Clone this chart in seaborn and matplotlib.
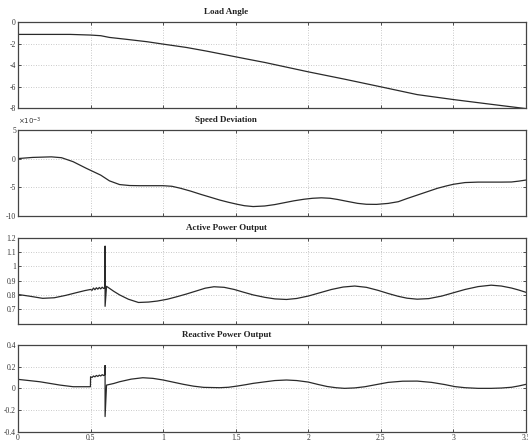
import matplotlib
matplotlib.use("Agg")
import matplotlib.pyplot as plt
import seaborn as sns
import pandas as pd

# time axis ticks
x_ticks = [0, 0.5, 1, 1.5, 2, 2.5, 3, 3.5]
x_tick_labels = ["0", "0.5", "1", "1.5", "2", "2.5", "3", "3.5"]

# load angle
t_load = [0, 0.36, 0.5, 0.57, 0.63, 0.75, 0.89, 1.0, 1.16, 1.3, 1.44, 1.58, 1.7,
          2.0, 2.25, 2.5, 2.75, 3.0, 3.26, 3.5]
v_load = [-1.15, -1.15, -1.21, -1.27, -1.43, -1.61, -1.83, -2.05, -2.36, -2.70, -3.07,
          -3.44, -3.75, -4.62, -5.30, -6.01, -6.73, -7.19, -7.63, -8.03]

# speed deviation (x 1e-3)
t_speed = [0, 0.1, 0.23, 0.30, 0.38, 0.47, 0.57, 0.63, 0.70, 0.77, 0.84, 1.0, 1.06,
           1.12, 1.19, 1.26, 1.33, 1.39, 1.45, 1.51, 1.56, 1.62, 1.70, 1.77, 1.83,
           1.90, 1.97, 2.03, 2.09, 2.15, 2.20, 2.27, 2.34, 2.40, 2.47, 2.55, 2.62,
           2.68, 2.75, 2.82, 2.89, 2.95, 3.0, 3.08, 3.17, 3.26, 3.33, 3.40, 3.45, 3.5]
v_speed = [0.0, 0.2, 0.3, 0.15, -0.55, -1.7, -2.9, -3.9, -4.55, -4.72, -4.75, -4.75,
           -4.85, -5.2, -5.7, -6.27, -6.8, -7.26, -7.65, -8.0, -8.25, -8.4, -8.3,
           -8.05, -7.75, -7.4, -7.12, -6.95, -6.87, -6.95, -7.15, -7.5, -7.84, -8.0,
           -8.02, -7.85, -7.55, -7.0, -6.4, -5.8, -5.2, -4.8, -4.5, -4.2, -4.12,
           -4.12, -4.12, -4.1, -3.95, -3.76]

# active power output
t_active = [0, 0.08, 0.17, 0.25, 0.33, 0.40, 0.46, 0.50, 0.51, 0.52, 0.53, 0.54,
            0.55, 0.56, 0.57, 0.58, 0.59, 0.60, 0.60, 0.60, 0.61, 0.66, 0.70, 0.76,
            0.83, 0.90, 0.96, 1.03, 1.09, 1.16, 1.23, 1.29, 1.35, 1.42, 1.49, 1.55,
            1.62, 1.70, 1.77, 1.85, 1.92, 2.00, 2.08, 2.16, 2.24, 2.32, 2.40, 2.48,
            2.55, 2.62, 2.68, 2.75, 2.83, 2.92, 3.00, 3.08, 3.17, 3.26, 3.33, 3.40,
            3.45, 3.50]
v_active = [0.803, 0.791, 0.776, 0.780, 0.797, 0.815, 0.830, 0.838, 0.832, 0.848,
            0.836, 0.850, 0.840, 0.852, 0.842, 0.854, 0.845, 0.852, 1.14, 0.72,
            0.86, 0.825, 0.800, 0.770, 0.747, 0.750, 0.757, 0.770, 0.786, 0.806,
            0.828, 0.847, 0.857, 0.853, 0.838, 0.820, 0.800, 0.783, 0.772, 0.768,
            0.775, 0.792, 0.815, 0.838, 0.855, 0.862, 0.853, 0.832, 0.810, 0.790,
            0.777, 0.770, 0.774, 0.792, 0.815, 0.838, 0.858, 0.868, 0.862, 0.848,
            0.834, 0.818]

# reactive power output
t_reactive = [0, 0.15, 0.29, 0.38, 0.499, 0.50, 0.51, 0.52, 0.53, 0.54, 0.55, 0.56,
              0.57, 0.58, 0.59, 0.60, 0.60, 0.60, 0.61, 0.66, 0.70, 0.78, 0.86, 0.93,
              1.0, 1.07, 1.14, 1.21, 1.28, 1.39, 1.45, 1.51, 1.57, 1.62, 1.70, 1.77,
              1.85, 1.92, 2.0, 2.07, 2.13, 2.19, 2.25, 2.32, 2.39, 2.47, 2.55, 2.65,
              2.75, 2.85, 2.94, 3.01, 3.08, 3.17, 3.26, 3.33, 3.40, 3.45, 3.5]
v_reactive = [0.083, 0.061, 0.030, 0.015, 0.015, 0.107, 0.100, 0.114, 0.106, 0.119,
              0.110, 0.122, 0.114, 0.126, 0.118, 0.129, 0.21, -0.26, 0.030, 0.045,
              0.061, 0.085, 0.098, 0.092, 0.077, 0.057, 0.037, 0.020, 0.009, 0.006,
              0.010, 0.021, 0.034, 0.046, 0.060, 0.072, 0.077, 0.072, 0.058, 0.035,
              0.017, 0.006, 0.0, 0.004, 0.015, 0.035, 0.055, 0.066, 0.067, 0.055,
              0.035, 0.016, 0.006, 0.0, 0.0, 0.003, 0.010, 0.022, 0.037]

titles = ["Load Angle", "Speed Deviation", "Active Power Output", "Reactive Power Output"]
y_limits = [(-8, 0), (-10, 5), (0.6, 1.2), (-0.4, 0.4)]
y_ticks = [[-8, -6, -4, -2, 0], [-10, -5, 0, 5], [0.7, 0.8, 0.9, 1.0, 1.1, 1.2],
           [-0.4, -0.2, 0, 0.2, 0.4]]
y_tick_labels = [["-8", "-6", "-4", "-2", "0"], ["-10", "-5", "0", "5"],
                 ["0.7", "0.8", "0.9", "1", "1.1", "1.2"],
                 ["-0.4", "-0.2", "0", "0.2", "0.4"]]

sns.set_style("white")
plt.rcParams["font.family"] = ["Liberation Serif", "DejaVu Serif"]

series = [(t_load, v_load), (t_speed, v_speed), (t_active, v_active),
          (t_reactive, v_reactive)]

# axes boxes in pixels (top, bottom)
W, H = 528, 446
boxes = [(22, 108.3), (130, 215.7), (237.7, 323.5), (345, 431.7)]
left_px, right_px = 18, 526

fig = plt.figure(figsize=(W / 100, H / 100), dpi=100)

for i, ((t, v), (top, bot)) in enumerate(zip(series, boxes)):
    ax = fig.add_axes([left_px / W, 1 - bot / H, (right_px - left_px) / W, (bot - top) / H])
    df = pd.DataFrame({"t": t, "v": v})
    sns.lineplot(data=df, x="t", y="v", ax=ax, estimator=None, sort=False,
                 color="#2a2a2a", lw=0.9)
    ax.set_xlim(0, 3.5)
    ax.set_ylim(*y_limits[i])
    ax.set_xticks(x_ticks)
    ax.set_yticks(y_ticks[i])
    ax.set_yticklabels(y_tick_labels[i])
    if i == 3:
        ax.set_xticklabels(x_tick_labels)
    else:
        ax.set_xticklabels([])
    ax.set_xlabel("")
    ax.set_ylabel("")
    ax.tick_params(direction="in", length=2.5, width=0.6, labelsize=5.5, pad=1.5,
                   top=True, right=True, left=True, bottom=True, colors="#333333")
    ax.grid(True, color="#b8b8b8", linestyle=(0, (1, 2)), lw=0.6)
    for s in ax.spines.values():
        s.set_color("#444444")
        s.set_linewidth(0.9)
    ax.annotate(titles[i], xy=(0.41, 1), xycoords="axes fraction", xytext=(0, 7.2),
                textcoords="offset points", ha="center", va="center", fontsize=6.5,
                fontweight="bold", color="#222222")
    if i == 1:
        ax.text(0.0, 1.03, r"$\times10^{-3}$", transform=ax.transAxes, ha="left",
                va="bottom", fontsize=5, color="#333333")

fig.savefig("out.png", dpi=100)
